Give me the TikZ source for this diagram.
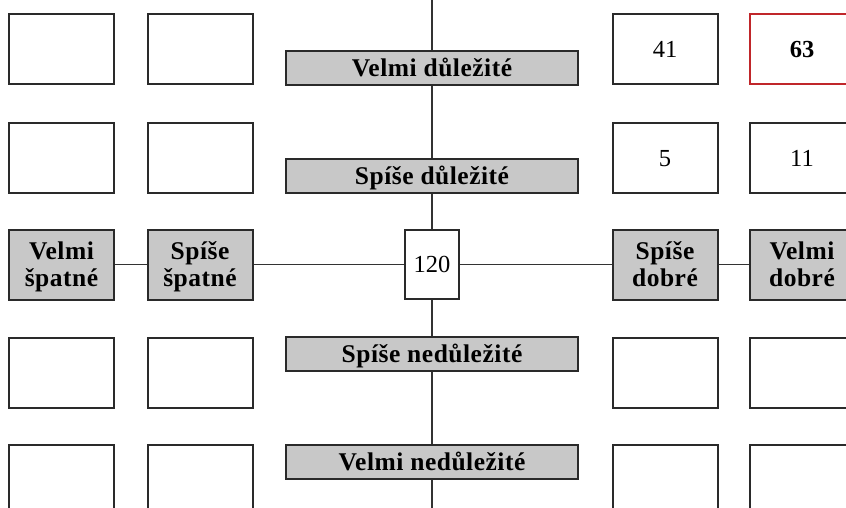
\documentclass[tikz,border=0pt]{standalone}
\usepackage{fontspec}
\setmainfont{Liberation Serif}
\newfontfamily\lblfont[LetterSpace=2]{Liberation Serif}
\definecolor{bordercol}{HTML}{2A2A2A}
\definecolor{linecol}{HTML}{333333}
\definecolor{boxgray}{HTML}{C8C8C8}
\definecolor{redcol}{HTML}{C0262A}
\tikzset{
  cell/.style={draw=bordercol, line width=2pt, fill=white, minimum width=105pt, minimum height=70pt, inner sep=0pt},
  graycell/.style={cell, fill=boxgray, align=center, text height=44pt, text depth=0pt, font=\lblfont\bfseries\fontsize{25.5}{27}\selectfont},
  bar/.style={draw=bordercol, line width=2pt, fill=boxgray, minimum width=292pt, minimum height=34pt, inner sep=0pt, text height=17pt, text depth=0pt, font=\lblfont\bfseries\fontsize{25.5}{27}\selectfont},
  numcell/.style={cell, text height=16.5pt, text depth=0pt, font=\fontsize{24.5}{28}\selectfont},
  redcell/.style={cell, draw=redcol, text height=16.5pt, text depth=0pt, font=\bfseries\fontsize{24.5}{28}\selectfont},
  centercell/.style={draw=bordercol, line width=2pt, fill=white, minimum width=54pt, minimum height=69pt, inner sep=0pt, text height=16.5pt, text depth=0pt, font=\fontsize{24.5}{28}\selectfont},
  conn/.style={draw=linecol, line width=1.8pt}
}
\begin{document}
\begin{tikzpicture}[x=1pt,y=-1pt]
\useasboundingbox (0,0) rectangle (846,508);
\clip (0,0) rectangle (846,508);
\coordinate (vtop) at (432,-2);
\coordinate (vbot) at (432,510);
\node[bar] (b1) at (432,68) {Velmi důležité};
\node[bar] (b2) at (432,176) {Spíše důležité};
\node[centercell] (cc) at (432,264.5) {120};
\node[bar] (b3) at (432,354) {Spíše nedůležité};
\node[bar] (b4) at (432,461.5) {Velmi nedůležité};
\node[graycell] (g1) at (61.5,264.5) {Velmi\\špatné};
\node[graycell] (g2) at (200,264.5) {Spíše\\špatné};
\node[graycell] (g4) at (665,264.5) {Spíše\\dobré};
\node[graycell] (g5) at (802,264.5) {Velmi\\dobré};
\node[cell] (a11) at (61.5,49.5) {};
\node[cell] (a12) at (200,49.5) {};
\node[numcell] (a14) at (665,49.5) {41};
\node[redcell] (a15) at (802,49.5) {63};
\node[cell] (a21) at (61.5,158) {};
\node[cell] (a22) at (200,158) {};
\node[numcell] (a24) at (665,158) {5};
\node[numcell] (a25) at (802,158) {11};
\node[cell] (a41) at (61.5,372.5) {};
\node[cell] (a42) at (200,372.5) {};
\node[cell] (a44) at (665,372.5) {};
\node[cell] (a45) at (802,372.5) {};
\node[cell] (a51) at (61.5,479.5) {};
\node[cell] (a52) at (200,479.5) {};
\node[cell] (a54) at (665,479.5) {};
\node[cell] (a55) at (802,479.5) {};
\draw[conn] (vtop) -- (b1.north);
\draw[conn] (b1.south) -- (b2.north);
\draw[conn] (b2.south) -- (cc.north);
\draw[conn] (cc.south) -- (b3.north);
\draw[conn] (b3.south) -- (b4.north);
\draw[conn] (b4.south) -- (vbot);
\draw[conn] (g1.east) -- (g2.west);
\draw[conn] (g2.east) -- (cc.west);
\draw[conn] (cc.east) -- (g4.west);
\draw[conn] (g4.east) -- (g5.west);
\end{tikzpicture}
\end{document}
